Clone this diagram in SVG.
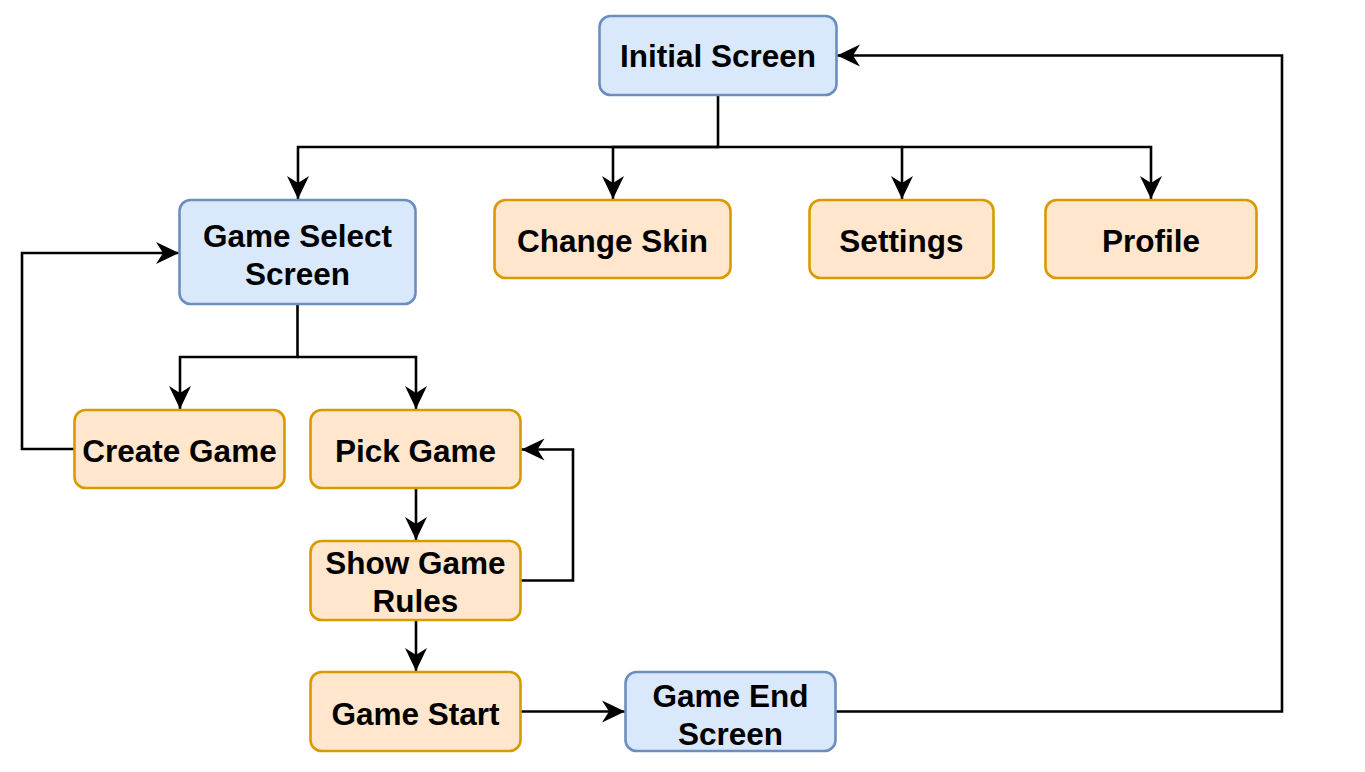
<svg xmlns="http://www.w3.org/2000/svg" width="1365" height="772" viewBox="0 0 1365 772">
<style>
.blue{fill:#dae8fc;stroke:#6c8ebf;stroke-width:2.6}
.orange{fill:#ffe6cc;stroke:#d79b00;stroke-width:2.6}
.lbl{font-family:"Liberation Sans",Arial,Helvetica,sans-serif;font-weight:bold;font-size:31.5px;fill:#000;text-anchor:middle}
.edge{fill:none;stroke:#000;stroke-width:2.6}
</style>
<defs>
<marker id="arr" markerUnits="userSpaceOnUse" viewBox="-24 -12 25 24" refX="0" refY="0" markerWidth="25" markerHeight="24" orient="auto">
<path d="M0,0 L-23,-11 L-16,0 L-23,11 Z" fill="#000"/>
</marker>
</defs>
<rect width="1365" height="772" fill="#fff"/>
<g id="connectors">
<path class="edge" d="M718,95 V147 H298 V199" marker-end="url(#arr)"/>
<path class="edge" d="M718,147 H613 V199" marker-end="url(#arr)"/>
<path class="edge" d="M718,147 H902 V199" marker-end="url(#arr)"/>
<path class="edge" d="M902,147 H1151 V199" marker-end="url(#arr)"/>
<path class="edge" d="M836,711.5 H1282 V55.5 H837" marker-end="url(#arr)"/>
<path class="edge" d="M297.5,304 V357 H180 V409" marker-end="url(#arr)"/>
<path class="edge" d="M297.5,357 H416 V409" marker-end="url(#arr)"/>
<path class="edge" d="M74.5,449 H22 V253 H179" marker-end="url(#arr)"/>
<path class="edge" d="M416,488 V540" marker-end="url(#arr)"/>
<path class="edge" d="M521,580.5 H573 V449.5 H521.5" marker-end="url(#arr)"/>
<path class="edge" d="M416,620 V671" marker-end="url(#arr)"/>
<path class="edge" d="M521,711.5 H625" marker-end="url(#arr)"/>
</g>
<g id="initial-screen">
<rect class="blue" x="599.5" y="16" width="237" height="79" rx="11"/>
<text class="lbl" x="718" y="67">Initial Screen</text>
</g>
<g id="game-select-screen">
<rect class="blue" x="179.5" y="200" width="236" height="104" rx="11"/>
<text class="lbl" x="297.5" y="247">Game Select</text>
<text class="lbl" x="297.5" y="285">Screen</text>
</g>
<g id="change-skin">
<rect class="orange" x="494.5" y="200" width="236" height="78" rx="11"/>
<text class="lbl" x="612.5" y="252">Change Skin</text>
</g>
<g id="settings">
<rect class="orange" x="809.5" y="200" width="184" height="78" rx="11"/>
<text class="lbl" x="901.5" y="252">Settings</text>
</g>
<g id="profile">
<rect class="orange" x="1045.5" y="200" width="211" height="78" rx="11"/>
<text class="lbl" x="1151" y="252">Profile</text>
</g>
<g id="create-game">
<rect class="orange" x="74.5" y="410" width="210" height="78" rx="11"/>
<text class="lbl" x="179.5" y="462">Create Game</text>
</g>
<g id="pick-game">
<rect class="orange" x="310.5" y="410" width="210" height="78" rx="11"/>
<text class="lbl" x="415.5" y="462">Pick Game</text>
</g>
<g id="show-game-rules">
<rect class="orange" x="310.5" y="541" width="210" height="79" rx="11"/>
<text class="lbl" x="415.5" y="574">Show Game</text>
<text class="lbl" x="415.5" y="612">Rules</text>
</g>
<g id="game-start">
<rect class="orange" x="310.5" y="672" width="210" height="79" rx="11"/>
<text class="lbl" x="415.5" y="725">Game Start</text>
</g>
<g id="game-end-screen">
<rect class="blue" x="625.5" y="672" width="210" height="79" rx="11"/>
<text class="lbl" x="730.5" y="707">Game End</text>
<text class="lbl" x="730.5" y="745">Screen</text>
</g>
</svg>
